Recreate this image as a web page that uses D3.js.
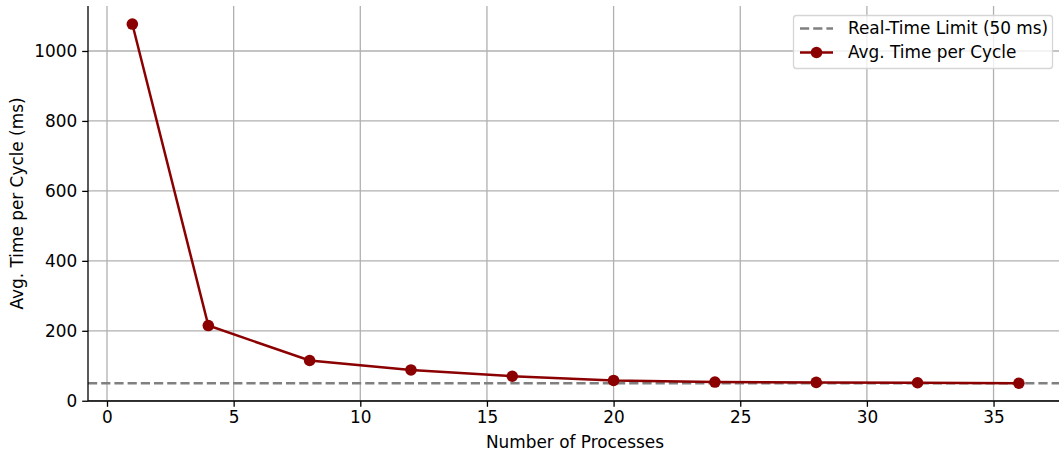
<!DOCTYPE html>
<html><head><meta charset="utf-8">
<script src="https://cdn.jsdelivr.net/npm/d3@7"></script>
<style>body{margin:0;background:#fff}svg{display:block}text{font-family:"DejaVu Sans",sans-serif}</style>
</head><body><svg id="c" width="1059" height="454"></svg>
<script>
const processes = [1, 4, 8, 12, 16, 20, 24, 28, 32, 36];
const avgTime = [1077, 215, 115, 88, 70, 58, 53.5, 52.5, 51.5, 50];
const limit = 50;
const xTicks = [0, 5, 10, 15, 20, 25, 30, 35];
const yTicks = [0, 200, 400, 600, 800, 1000];
const labels = {x: "Number of Processes", y: "Avg. Time per Cycle (ms)", limit: "Real-Time Limit (50 ms)", series: "Avg. Time per Cycle"};

const svg = d3.select("#c");
const fs = 16.9;
const L = 88, B = 401, T = 6;
const x = d3.scaleLinear().domain([-0.75, 37.75]).range([L, L + 38.5 * 25.33]);
const y = d3.scaleLinear().domain([-1.6, 1128.6]).range([B + 0.3, T]);

// grid
const g = svg.append("g");
g.selectAll(".gx").data(xTicks).enter().append("line")
  .attr("x1", d => x(d)).attr("x2", d => x(d)).attr("y1", T).attr("y2", B)
  .attr("stroke", "#b0b0b0").attr("stroke-width", 1.3);
g.selectAll(".gy").data(yTicks).enter().append("line")
  .attr("y1", d => y(d)).attr("y2", d => y(d)).attr("x1", L).attr("x2", 1059)
  .attr("stroke", "#b0b0b0").attr("stroke-width", 1.3);

// limit line
svg.append("line").attr("x1", L).attr("x2", 1059).attr("y1", y(limit)).attr("y2", y(limit))
  .attr("stroke", "#808080").attr("stroke-width", 2.5).attr("stroke-dasharray", "9.2,4");

// series
svg.append("path").datum(processes.map((p, i) => [p, avgTime[i]]))
  .attr("d", d3.line().x(d => x(d[0])).y(d => y(d[1])))
  .attr("fill", "none").attr("stroke", "#8b0000").attr("stroke-width", 2.5);
svg.selectAll(".pt").data(processes).enter().append("circle")
  .attr("cx", d => x(d)).attr("cy", (d, i) => y(avgTime[i])).attr("r", 5.8).attr("fill", "#8b0000");

// axes
const xa = svg.append("g").attr("transform", `translate(0,${B})`)
  .call(d3.axisBottom(x).tickValues(xTicks).tickSize(5.8).tickPadding(4.5).tickFormat(d3.format("d")));
const ya = svg.append("g").attr("transform", `translate(${L},0)`)
  .call(d3.axisLeft(y).tickValues(yTicks).tickSize(5.8).tickPadding(5).tickFormat(d3.format("d")));
[xa, ya].forEach(a => {
  a.select(".domain").remove();
  a.selectAll("line").attr("stroke", "#000").attr("stroke-width", 1.3);
  a.selectAll("text").attr("font-size", fs).attr("font-family", "DejaVu Sans").attr("fill", "#000");
});
svg.append("line").attr("x1", L).attr("x2", 1059).attr("y1", B).attr("y2", B).attr("stroke", "#000").attr("stroke-width", 1.3);
svg.append("line").attr("x1", L).attr("x2", L).attr("y1", T).attr("y2", B).attr("stroke", "#000").attr("stroke-width", 1.3);

// axis labels
svg.append("text").attr("x", 575).attr("y", 448).attr("text-anchor", "middle")
  .attr("font-size", fs).text(labels.x);
svg.append("text").attr("transform", `translate(23,${(T + B) / 2}) rotate(-90)`).attr("text-anchor", "middle")
  .attr("font-size", fs).text(labels.y);

// legend
const lg = svg.append("g");
lg.append("rect").attr("x", 793.5).attr("y", 15.5).attr("width", 259).attr("height", 53).attr("rx", 3)
  .attr("fill", "rgba(255,255,255,0.8)").attr("stroke", "#d5d5d5").attr("stroke-width", 1.3);
lg.append("line").attr("x1", 800).attr("x2", 833).attr("y1", 28.5).attr("y2", 28.5)
  .attr("stroke", "#808080").attr("stroke-width", 2.5).attr("stroke-dasharray", "9.2,4");
lg.append("line").attr("x1", 800).attr("x2", 833).attr("y1", 52.5).attr("y2", 52.5)
  .attr("stroke", "#8b0000").attr("stroke-width", 2.5);
lg.append("circle").attr("cx", 816.5).attr("cy", 52.5).attr("r", 5.8).attr("fill", "#8b0000");
lg.append("text").attr("x", 848).attr("y", 28.5).attr("dy", "0.35em").attr("font-size", fs).text(labels.limit);
lg.append("text").attr("x", 848).attr("y", 52.5).attr("dy", "0.35em").attr("font-size", fs).text(labels.series);
</script></body></html>
